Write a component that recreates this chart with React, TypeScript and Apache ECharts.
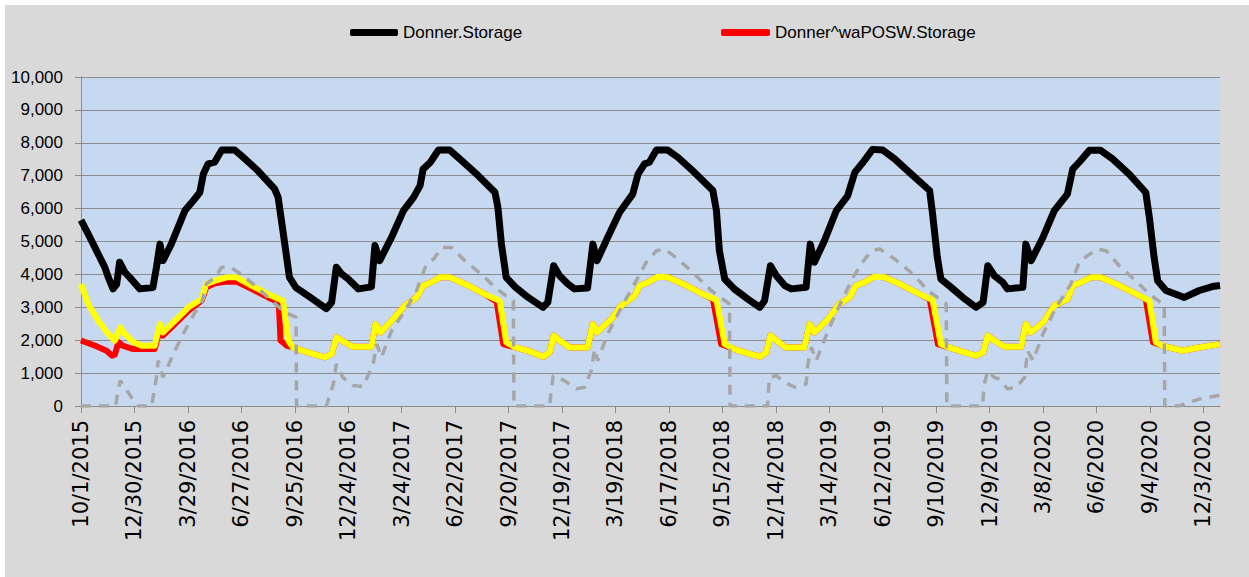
import React, { useEffect, useRef } from "react";
import * as echarts from "echarts";

// x = days since 10/1/2015, y = storage (acre-feet)
const tickLabels: string[] = [
  "10/1/2015", "12/30/2015", "3/29/2016", "6/27/2016", "9/25/2016", "12/24/2016",
  "3/24/2017", "6/22/2017", "9/20/2017", "12/19/2017", "3/19/2018", "6/17/2018",
  "9/15/2018", "12/14/2018", "3/14/2019", "6/12/2019", "9/10/2019", "12/9/2019",
  "3/8/2020", "6/6/2020", "9/4/2020", "12/3/2020",
];

const donnerStorage: [number, number][] = [
  [0, 5650], [12, 5230], [40, 4220], [46, 3910], [54, 3560], [60, 3700], [65, 4370], [74, 4060],
  [82, 3910], [99, 3560], [121, 3600], [127, 4210], [133, 4920], [138, 4420], [152, 4920],
  [175, 5940], [189, 6240], [200, 6490], [206, 7050], [214, 7360], [225, 7410], [237, 7780],
  [259, 7780], [270, 7610], [298, 7150], [326, 6600], [332, 6340], [340, 5330], [351, 3910],
  [362, 3600], [388, 3280], [413, 2960], [422, 3150], [430, 4220], [439, 4010], [450, 3860],
  [467, 3560], [489, 3620], [495, 4880], [503, 4420], [523, 5130], [543, 5940], [560, 6340],
  [571, 6700], [576, 7200], [588, 7400], [602, 7780], [621, 7780], [641, 7460], [669, 7000],
  [697, 6500], [702, 6040], [708, 4920], [716, 3910], [731, 3620], [753, 3300], [778, 3000],
  [786, 3150], [796, 4265], [806, 3960], [820, 3710], [831, 3560], [853, 3590], [862, 4920],
  [869, 4420], [887, 5130], [907, 5890], [929, 6440], [938, 7050], [949, 7360], [957, 7410],
  [969, 7780], [988, 7780], [1005, 7560], [1033, 7100], [1064, 6550], [1070, 5940], [1075, 4720],
  [1084, 3860], [1100, 3560], [1123, 3250], [1143, 3000], [1151, 3200], [1161, 4265], [1171, 3960],
  [1185, 3660], [1196, 3560], [1221, 3610], [1228, 4920], [1235, 4370], [1252, 5030], [1272, 5940],
  [1291, 6390], [1303, 7100], [1317, 7410], [1333, 7800], [1350, 7780], [1370, 7510], [1401, 7000],
  [1429, 6550], [1434, 5840], [1442, 4520], [1448, 3860], [1465, 3610], [1485, 3300], [1507, 3000],
  [1519, 3150], [1527, 4265], [1538, 3960], [1552, 3760], [1560, 3560], [1586, 3610], [1591, 4920],
  [1600, 4420], [1620, 5130], [1639, 5940], [1661, 6440], [1670, 7200], [1681, 7410], [1698, 7770],
  [1717, 7770], [1737, 7510], [1765, 7050], [1793, 6490], [1799, 5740], [1807, 4520], [1813, 3810],
  [1827, 3510], [1858, 3300], [1883, 3510], [1905, 3630], [1918, 3660],
];

const waPOSWStorage: [number, number][] = [
  [0, 1990], [24, 1830], [43, 1680], [52, 1530], [57, 1560], [63, 1940], [71, 1830], [88, 1730],
  [124, 1730], [133, 2340], [138, 2140], [158, 2490], [181, 2900], [203, 3200], [211, 3610],
  [226, 3730], [245, 3780], [262, 3780], [287, 3560], [315, 3300], [333, 3150], [336, 1990],
  [347, 1830], [357, 1780], [382, 1630], [411, 1480], [422, 1580], [430, 2090], [439, 1990],
  [458, 1800], [489, 1800], [496, 2490], [505, 2240], [523, 2590], [545, 3050], [565, 3300],
  [576, 3660], [590, 3760], [604, 3910], [621, 3910], [652, 3660], [680, 3400], [700, 3170],
  [711, 1880], [731, 1780], [753, 1680], [778, 1500], [789, 1630], [796, 2140], [806, 1990],
  [823, 1780], [853, 1780], [862, 2490], [869, 2240], [893, 2640], [910, 3050], [932, 3350],
  [941, 3660], [955, 3760], [971, 3930], [988, 3910], [1016, 3690], [1044, 3430], [1064, 3250],
  [1078, 1880], [1100, 1730], [1123, 1600], [1143, 1500], [1154, 1630], [1161, 2140], [1171, 1990],
  [1187, 1780], [1218, 1780], [1227, 2490], [1235, 2240], [1258, 2640], [1277, 3100], [1294, 3300],
  [1305, 3660], [1319, 3760], [1336, 3930], [1353, 3910], [1381, 3690], [1409, 3430], [1429, 3250],
  [1443, 1880], [1465, 1760], [1488, 1630], [1507, 1530], [1519, 1630], [1527, 2140], [1538, 1990],
  [1555, 1800], [1583, 1800], [1591, 2490], [1600, 2240], [1620, 2540], [1639, 3050], [1661, 3250],
  [1670, 3660], [1684, 3760], [1701, 3910], [1717, 3910], [1743, 3710], [1771, 3460], [1793, 3250],
  [1805, 1940], [1821, 1830], [1855, 1680], [1883, 1780], [1918, 1880],
];

const altStorage: [number, number][] = [
  [0, 3710], [12, 3100], [29, 2590], [46, 2190], [57, 1990], [66, 2390], [74, 2190], [88, 1940],
  [102, 1830], [124, 1830], [133, 2490], [138, 2240], [158, 2590], [181, 3000], [203, 3250],
  [211, 3710], [226, 3810], [245, 3910], [262, 3910], [287, 3660], [315, 3400], [340, 3200],
  [349, 1990], [357, 1780], [382, 1630], [411, 1480], [422, 1580], [430, 2090], [439, 1990],
  [458, 1800], [489, 1800], [496, 2490], [505, 2240], [523, 2590], [545, 3050], [565, 3300],
  [576, 3660], [590, 3760], [604, 3910], [621, 3910], [652, 3660], [680, 3400], [705, 3200],
  [716, 1940], [731, 1780], [753, 1680], [778, 1500], [789, 1630], [796, 2140], [806, 1990],
  [823, 1780], [853, 1780], [862, 2490], [869, 2240], [893, 2640], [910, 3050], [932, 3350],
  [941, 3660], [955, 3760], [971, 3930], [988, 3910], [1016, 3690], [1044, 3430], [1070, 3220],
  [1084, 1880], [1100, 1730], [1123, 1600], [1143, 1500], [1154, 1630], [1161, 2140], [1171, 1990],
  [1187, 1780], [1218, 1780], [1227, 2490], [1235, 2240], [1258, 2640], [1277, 3100], [1294, 3300],
  [1305, 3660], [1319, 3760], [1336, 3930], [1353, 3910], [1381, 3690], [1409, 3430], [1434, 3220],
  [1448, 1880], [1465, 1760], [1488, 1630], [1507, 1530], [1519, 1630], [1527, 2140], [1538, 1990],
  [1555, 1800], [1583, 1800], [1591, 2490], [1600, 2240], [1620, 2540], [1639, 3050], [1661, 3250],
  [1670, 3660], [1684, 3760], [1701, 3910], [1717, 3910], [1743, 3710], [1771, 3460], [1799, 3200],
  [1810, 1940], [1821, 1830], [1855, 1680], [1883, 1780], [1918, 1880],
];

const demandStorage: [number, number][] = [
  [0, 0], [58, 0], [66, 770], [74, 570], [85, 260], [96, 0], [119, 0], [127, 870], [130, 1380],
  [138, 870], [158, 1680], [175, 2290], [192, 2850], [203, 3100], [211, 3710], [226, 3910],
  [237, 4220], [251, 4220], [270, 4010], [296, 3610], [321, 3200], [343, 2850], [362, 2700],
  [363, 0], [413, 0], [425, 670], [430, 1280], [441, 870], [458, 620], [475, 590], [492, 1280],
  [498, 1880], [506, 1480], [523, 2290], [546, 2900], [565, 3510], [582, 4320], [594, 4470],
  [608, 4820], [624, 4820], [646, 4420], [674, 4010], [697, 3610], [719, 3300], [728, 3200],
  [729, 0], [789, 0], [792, 470], [795, 920], [803, 870], [814, 770], [834, 520], [848, 570],
  [859, 1070], [865, 1730], [870, 1380], [887, 2190], [910, 3000], [938, 3910], [952, 4370],
  [969, 4720], [983, 4770], [1005, 4470], [1033, 4010], [1061, 3510], [1092, 3100], [1093, 0],
  [1156, 0], [1159, 870], [1171, 920], [1185, 720], [1202, 570], [1221, 670], [1224, 1280],
  [1230, 1780], [1238, 1380], [1258, 2290], [1277, 3050], [1300, 3910], [1314, 4320], [1331, 4720],
  [1345, 4770], [1370, 4470], [1401, 4010], [1426, 3510], [1457, 3100], [1458, 0], [1518, 0],
  [1521, 670], [1527, 1070], [1538, 870], [1546, 820], [1560, 520], [1575, 570], [1589, 870],
  [1594, 1680], [1603, 1380], [1620, 2190], [1639, 2900], [1656, 3400], [1667, 3710], [1681, 4370],
  [1695, 4570], [1712, 4770], [1726, 4720], [1748, 4270], [1776, 3810], [1799, 3400], [1818, 3150],
  [1824, 3100], [1825, 0], [1849, 0], [1866, 110], [1883, 210], [1914, 310], [1918, 320],
];

const LAST_DAY = 1918;

export default function App() {
  const ref = useRef<HTMLDivElement>(null);

  useEffect(() => {
    if (!ref.current) return;
    const chart = echarts.init(ref.current, undefined, { renderer: "svg" });
    const narrowFont = "'Liberation Sans Narrow', 'Liberation Sans', sans-serif";
    chart.setOption({
      animation: false,
      backgroundColor: "#d9d9d9",
      legend: [
        {
          data: ["Donner.Storage"],
          left: 345,
          top: 19,
          padding: 0,
          icon: "roundRect",
          itemWidth: 48,
          itemHeight: 7,
          textStyle: { fontSize: 17, color: "#000", fontFamily: narrowFont },
        },
        {
          data: ["Donner^waPOSW.Storage"],
          left: 716,
          top: 19,
          padding: 0,
          icon: "roundRect",
          itemWidth: 49,
          itemHeight: 7,
          textStyle: { fontSize: 17, color: "#000", fontFamily: narrowFont },
        },
      ],
      grid: {
        left: 76,
        right: 29,
        top: 72,
        bottom: 171,
        show: true,
        backgroundColor: "#c6d9f1",
        borderWidth: 0,
      },
      xAxis: {
        type: "value",
        min: 0,
        max: LAST_DAY,
        interval: 90,
        axisLine: { show: true, lineStyle: { color: "#8c8c8c", width: 1 } },
        axisTick: { show: true, length: 7, lineStyle: { color: "#8c8c8c" } },
        splitLine: { show: false },
        axisLabel: {
          rotate: 90,
          margin: 14,
          fontSize: 21,
          color: "#000",
          fontFamily: "'DejaVu Sans', sans-serif",
          showMaxLabel: false,
          formatter: (v: number) => {
            if (v % 90 !== 0) return "";
            return tickLabels[v / 90] ?? "";
          },
        },
      },
      yAxis: {
        type: "value",
        min: 0,
        max: 10000,
        interval: 1000,
        axisLine: { show: true, lineStyle: { color: "#8c8c8c", width: 1 } },
        axisTick: { show: true, length: 6, lineStyle: { color: "#8c8c8c" } },
        splitLine: { show: true, lineStyle: { color: "#8c8c8c", width: 1 } },
        axisLabel: {
          margin: 18,
          fontSize: 17,
          color: "#000",
          fontFamily: narrowFont,
          formatter: (v: number) => v.toLocaleString("en-US"),
        },
      },
      series: [
        {
          name: "Donner.Storage",
          type: "line",
          data: donnerStorage,
          symbol: "none",
          color: "#000000",
          lineStyle: { color: "#000000", width: 7, join: "round" },
        },
        {
          name: "Donner^waPOSW.Storage",
          type: "line",
          data: waPOSWStorage,
          symbol: "none",
          color: "#ff0000",
          lineStyle: { color: "#ff0000", width: 6, join: "round" },
        },
        {
          name: "Alt.Storage",
          type: "line",
          data: altStorage,
          symbol: "none",
          color: "#ffff00",
          lineStyle: { color: "#ffff00", width: 6, join: "round" },
        },
        {
          name: "Demand",
          type: "line",
          data: demandStorage,
          symbol: "none",
          color: "#a6a6a6",
          lineStyle: { color: "#a6a6a6", width: 3.5, type: [10, 8] },
        },
      ],
    });
    return () => chart.dispose();
  }, []);

  return (
    <div style={{ position: "absolute", left: 0, top: 0, width: 1249, height: 577, background: "#ffffff" }}>
      <div ref={ref} style={{ position: "absolute", left: 5, top: 5, width: 1244, height: 572 }} />
    </div>
  );
}
